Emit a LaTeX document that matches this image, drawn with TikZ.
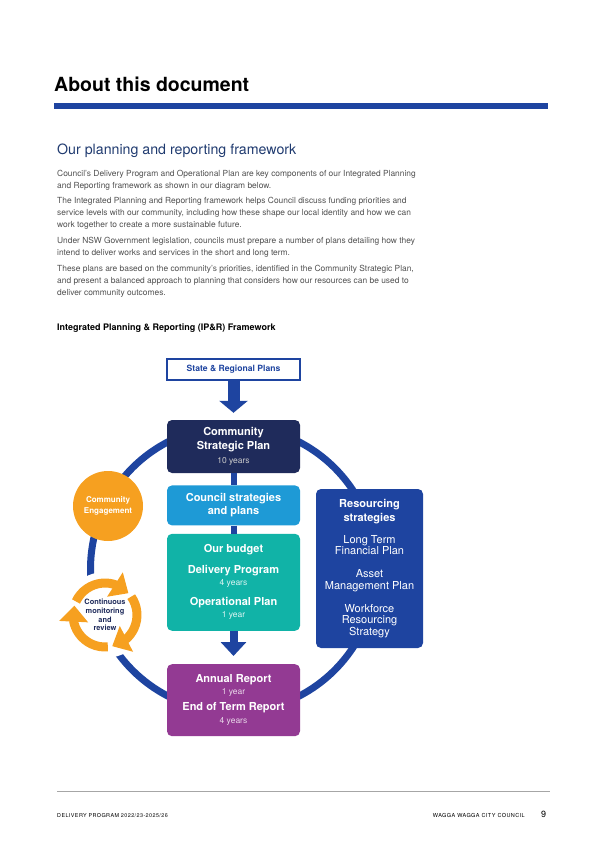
\documentclass[tikz,border=0pt]{standalone}
\usepackage{fontspec}
\setmainfont{TeX Gyre Heros}
\newfontfamily\ftrfont[LetterSpace=8]{TeX Gyre Heros}
\usetikzlibrary{positioning,arrows.meta,bending}

\definecolor{ipblue}{HTML}{1E44A0}
\definecolor{ipnavy}{HTML}{1F2B5B}
\definecolor{iplight}{HTML}{1E9AD6}
\definecolor{ipteal}{HTML}{11B3A7}
\definecolor{ippurple}{HTML}{933A93}
\definecolor{iporange}{HTML}{F6A020}
\definecolor{headnavy}{HTML}{1F3A6F}
\definecolor{bodygrey}{HTML}{505050}

\newcommand{\yrs}[2]{{\mdseries\fontsize{8.5}{10}\selectfont\color{#1}#2}}

\tikzset{
  box/.style={rounded corners=5pt, minimum width=133pt, inner sep=0pt,
    text=white, align=center, font=\bfseries\fontsize{11}{14}\selectfont},
  para/.style={anchor=north west, inner sep=0pt, align=left, text=bodygrey,
    font=\fontsize{8.4}{12}\selectfont},
  ring/.style={draw=ipblue, line width=7pt},
  link/.style={draw=ipblue, line width=6pt},
  bigarr/.style={draw=ipblue, line width=#1, -{Triangle[flex]}},
  cyc/.style={draw=iporange, line width=9pt, -{Triangle[length=16pt,width=28pt,flex]}}
}

\begin{document}
\begin{tikzpicture}[x=1pt,y=-1pt]
  \useasboundingbox (0,0) rectangle (599,848);

  \node[anchor=base west, inner sep=0pt, font=\bfseries\fontsize{19.5}{24}\selectfont] (ttl) at (54,92) {About this document};
  \fill[ipblue] (54,103) rectangle (548,109);
  \node[anchor=base west, inner sep=0pt, text=headnavy, font=\fontsize{14.2}{17}\selectfont] (sub) at (57,154) {Our planning and reporting framework};

  \node[para] (p1) at (57,170.3) {Council's Delivery Program and Operational Plan are key components of our Integrated Planning\\and Reporting framework as shown in our diagram below.};
  \node[para] (p2) at (57,197.3) {The Integrated Planning and Reporting framework helps Council discuss funding priorities and\\service levels with our community, including how these shape our local identity and how we can\\work together to create a more sustainable future.};
  \node[para] (p3) at (57,237.3) {Under NSW Government legislation, councils must prepare a number of plans detailing how they\\intend to deliver works and services in the short and long term.};
  \node[para] (p4) at (57,265.3) {These plans are based on the community's priorities, identified in the Community Strategic Plan,\\and present a balanced approach to planning that considers how our resources can be used to\\deliver community outcomes.};

  \node[anchor=base west, inner sep=0pt, font=\bfseries\fontsize{9}{11}\selectfont] (fw) at (57,330) {Integrated Planning \& Reporting (IP\&R) Framework};

  \draw[ring] (233.5,569) circle[radius=143];

  \node[draw=ipblue, line width=2pt, fill=white, minimum width=133pt, minimum height=21pt, text=ipblue, font=\bfseries\fontsize{8.6}{10}\selectfont] (srp) at (233.5,369) {State \& Regional Plans};
  \node[box, fill=ipnavy, minimum height=53pt] (csp) at (233.5,446.5) {Community\\Strategic Plan\\\yrs{black!20!white}{10 years}};
  \node[box, fill=iplight, minimum height=40pt, below=12pt of csp] (csb) {Council strategies\\[-1pt]and plans};
  \node[box, fill=ipteal, minimum height=97pt, below=8pt of csb] (bud) {Our budget\\[7pt]Delivery Program\\[-2pt]\yrs{white!85!ipteal}{4 years}\\[6pt]Operational Plan\\[-2pt]\yrs{white!85!ipteal}{1 year}};
  \node[box, fill=ippurple, minimum height=72pt, below=33pt of bud] (ar) {Annual Report\\[-2pt]\yrs{white!80!ippurple}{1 year}\\[2pt]End of Term Report\\[-1pt]\yrs{white!80!ippurple}{4 years}};
  \node[box, fill=ipblue, minimum width=107pt, minimum height=159pt, font=\fontsize{11}{11.5}\selectfont] (rs) at (369.5,568.5) {{\bfseries Resourcing}\\[2.5pt]{\bfseries strategies}\\[10.5pt]Long Term\\Financial Plan\\[11.5pt]Asset\\Management Plan\\[11.5pt]Workforce\\Resourcing\\Strategy};

  \draw[link] (csp) -- (csb);
  \draw[link] (csb) -- (bud);
  \draw[bigarr=12pt, arrows={-Triangle[length=12pt,width=28pt,flex]}, shorten >=7pt] (srp) -- (csp);
  \draw[bigarr=8pt, arrows={-Triangle[length=14pt,width=25pt,flex]}, shorten >=8pt] (bud) -- (ar);

  \node[circle, fill=iporange, minimum size=70pt, inner sep=0pt, text=white, align=center, font=\bfseries\fontsize{8}{11.5}\selectfont] (ce) at (108,506) {Community\\Engagement};

  \node[circle, fill=white, minimum size=86pt, inner sep=0pt, text=ipnavy, align=center, font=\bfseries\fontsize{7.4}{8.6}\selectfont] (cmr) at (105,615) {Continuous\\monitoring\\and\\review};
  \foreach \a in {205,325,85}
    \draw[cyc] ([shift={(\a:32)}]cmr.center) arc[start angle=\a, delta angle=112, radius=32];

  \draw[gray!70, line width=0.6pt] (57,791) -- (550,791);
  \node[anchor=base west, inner sep=0pt, font=\ftrfont\fontsize{5.4}{7}\selectfont] (ftl) at (57,817) {DELIVERY PROGRAM 2022/23-2025/26};
  \node[anchor=base east, inner sep=0pt, font=\ftrfont\fontsize{5.5}{7}\selectfont] (ftr) at (525,817) {WAGGA WAGGA CITY COUNCIL};
  \node[anchor=base west, inner sep=0pt, font=\fontsize{9}{10}\selectfont] (pg) at (541,817) {9};
\end{tikzpicture}
\end{document}
